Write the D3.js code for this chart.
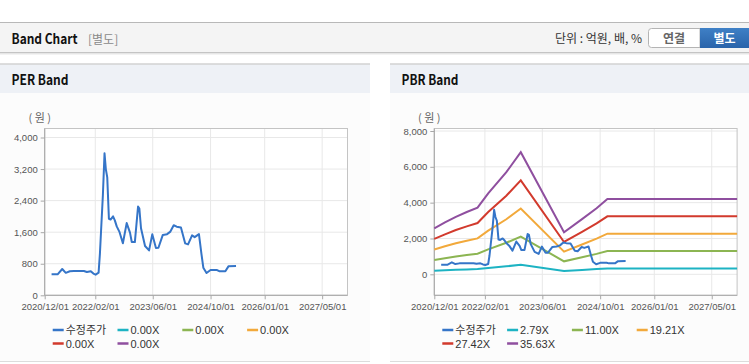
<!DOCTYPE html>
<html>
<head>
<meta charset="utf-8">
<script src="https://cdn.jsdelivr.net/npm/d3@7"></script>
<style>
  body { margin: 0; background: #fff; }
  svg { display: block; font-family: "Noto Sans CJK KR", "Liberation Sans", sans-serif; }
  .num { font-family: "Liberation Sans", Arial, sans-serif; }
</style>
</head>
<body>
<div id="chart"></div>
<script>
// x axis ticks (dates) shared by both charts
const tickDates = ['2020/12/01', '2022/02/01', '2023/06/01', '2024/10/01', '2026/01/01', '2027/05/01'];
const perTicks = [0, 800, 1600, 2400, 3200, 4000];
const pbrTicks = [0, 2000, 4000, 6000, 8000];

// 수정주가 (adjusted price)
const priceDates = ['2021-01-28', '2021-03-20', '2021-04-28', '2021-05-28', '2021-07-01', '2021-08-04',
  '2021-10-28', '2021-11-22', '2021-12-25', '2022-01-16', '2022-02-04', '2022-03-01', '2022-03-12',
  '2022-03-22', '2022-04-06', '2022-04-20', '2022-05-01', '2022-05-13', '2022-05-27', '2022-06-10',
  '2022-07-01', '2022-07-16', '2022-08-01', '2022-08-25', '2022-09-22', '2022-10-24', '2022-11-21',
  '2022-12-06', '2023-01-01', '2023-01-28', '2023-02-08', '2023-02-22', '2023-03-28', '2023-05-01',
  '2023-05-28', '2023-06-28', '2023-07-19', '2023-08-25', '2023-09-30', '2023-10-28', '2023-11-25',
  '2023-12-20', '2024-01-25', '2024-03-01', '2024-03-25', '2024-04-28', '2024-05-20', '2024-06-25',
  '2024-07-16', '2024-08-01', '2024-08-28', '2024-10-01', '2024-11-25', '2024-12-13', '2025-02-03',
  '2025-03-01', '2025-05-04'];
const priceValues = [531, 531, 666, 570, 610, 617,
  617, 590, 612, 550, 523, 575, 1050,
  1650, 2530, 3600, 3200, 2990, 1940, 1920,
  2000, 1900, 1746, 1600, 1320, 1830, 1590,
  1350, 1350, 2250, 2200, 1700, 1250, 1138,
  1545, 1200, 1205, 1530, 1550, 1615, 1775,
  1740, 1720, 1315, 1290, 1520, 1475, 1550,
  1050, 700, 565, 640, 640, 610, 610,
  734, 742];

// PBR bands
const bandDates = ['2020-12-01', '2021-03-01', '2021-06-01', '2021-09-01', '2021-12-01', '2022-03-01',
  '2022-08-01', '2022-12-01', '2023-12-01', '2024-05-01', '2024-09-01', '2024-12-01', '2027-12-01'];
const pbrBand1 = [201, 227, 251, 272, 291, 354, 446, 534, 184, 241, 289, 329, 329];
const pbrBand2 = [793, 895, 991, 1074, 1148, 1395, 1760, 2104, 724, 951, 1139, 1298, 1298];
const pbrBand3 = [1386, 1564, 1731, 1876, 2006, 2437, 3073, 3675, 1264, 1661, 1990, 2267, 2267];
const pbrBand4 = [1978, 2232, 2470, 2678, 2863, 3479, 4387, 5245, 1805, 2370, 2840, 3236, 3236];
const pbrBand5 = [2570, 2900, 3210, 3480, 3720, 4520, 5700, 6815, 2345, 3080, 3690, 4205, 4205];

const perLabels = ['수정주가', '0.00X', '0.00X', '0.00X', '0.00X', '0.00X'];
const pbrLabels = ['수정주가', '2.79X', '11.00X', '19.21X', '27.42X', '35.63X'];
const colors = ['#3575c8', '#1db3c3', '#8cb552', '#f2a93b', '#d23a2d', '#8f4f9f'];

const width = 749;
const height = 364;
const parse = d3.timeParse('%Y-%m-%d');
const parseTick = d3.timeParse('%Y/%m/%d');

const svg = d3.select('#chart').append('svg')
  .attr('width', width)
  .attr('height', height);

// top header bar
svg.append('rect').attr('x', 0).attr('y', 22).attr('width', width).attr('height', 31).attr('fill', '#f4f4f4');
svg.append('line').attr('x1', 0).attr('x2', width).attr('y1', 22.5).attr('y2', 22.5).attr('stroke', '#b8b8b8');
svg.append('line').attr('x1', 0).attr('x2', width).attr('y1', 52.5).attr('y2', 52.5).attr('stroke', '#c4c4c4');
svg.append('line').attr('x1', 0).attr('x2', width).attr('y1', 53.5).attr('y2', 53.5).attr('stroke', '#e6e6e6');
svg.append('line').attr('x1', 0).attr('x2', width).attr('y1', 54.5).attr('y2', 54.5).attr('stroke', '#f3f3f3');

svg.append('text').text('Band Chart')
  .attr('x', 11.5).attr('y', 43.5)
  .attr('textLength', 66).attr('lengthAdjust', 'spacingAndGlyphs')
  .attr('font-size', 14).attr('font-weight', 'bold').attr('fill', '#111');
svg.append('text').text('[별도]')
  .attr('x', 88).attr('y', 43.5)
  .attr('font-size', 12).attr('fill', '#8a8a8a');
svg.append('text').text('단위 : 억원, 배, %')
  .attr('x', 642).attr('y', 43)
  .attr('text-anchor', 'end')
  .attr('font-size', 12).attr('fill', '#333');

// buttons
svg.append('path')
  .attr('d', 'M700,28.5 L651.5,28.5 Q648.5,28.5 648.5,31.5 L648.5,44.5 Q648.5,47.5 651.5,47.5 L700,47.5 Z')
  .attr('fill', '#fff').attr('stroke', '#b4b4b4');
const grad = svg.append('defs').append('linearGradient')
  .attr('id', 'btn').attr('x1', 0).attr('x2', 0).attr('y1', 0).attr('y2', 1);
grad.append('stop').attr('offset', '0%').attr('stop-color', '#3f80c6');
grad.append('stop').attr('offset', '100%').attr('stop-color', '#2a64aa');
svg.append('rect').attr('x', 700).attr('y', 28).attr('width', 49).attr('height', 20).attr('fill', 'url(#btn)');
svg.append('text').text('연결')
  .attr('x', 674).attr('y', 42.5).attr('text-anchor', 'middle')
  .attr('font-size', 12).attr('font-weight', 'bold').attr('fill', '#666');
svg.append('text').text('별도')
  .attr('x', 724.5).attr('y', 42.5).attr('text-anchor', 'middle')
  .attr('font-size', 12).attr('font-weight', 'bold').attr('fill', '#fff');

function drawPanel(px, pw, title, cfg) {
  const g = svg.append('g');

  // panel frame
  g.append('rect').attr('x', px).attr('y', 93).attr('width', pw).attr('height', 269).attr('fill', '#fcfcfc');
  g.append('rect').attr('x', px).attr('y', 64).attr('width', pw).attr('height', 29).attr('fill', '#eef1f6');
  g.append('line').attr('x1', px).attr('x2', px + pw).attr('y1', 64).attr('y2', 64)
    .attr('stroke', '#d2d2d2').attr('stroke-width', 1.5);
  g.append('line').attr('x1', px).attr('x2', px + pw).attr('y1', 361.5).attr('y2', 361.5)
    .attr('stroke', '#dcdcdc');
  g.append('text').text(title)
    .attr('x', px + 11.5).attr('y', 85)
    .attr('textLength', 57).attr('lengthAdjust', 'spacingAndGlyphs')
    .attr('font-size', 14).attr('font-weight', 'bold').attr('fill', '#111');

  const left = px + cfg.axisX;
  const right = left + 302.8;
  const top = 128.5;
  const bottom = 295.3;

  const x = d3.scaleTime()
    .domain([parse('2020-12-01'), parse('2027-12-01')])
    .range([left, right]);
  const y = d3.scaleLinear()
    .domain([0, cfg.yMax])
    .range([cfg.y0, cfg.yTop]);

  // plot background + grid
  g.append('rect').attr('x', left).attr('y', top).attr('width', right - left).attr('height', bottom - top)
    .attr('fill', '#fff');
  g.append('g').selectAll('line').data(cfg.yTicks).join('line')
    .attr('x1', left).attr('x2', right)
    .attr('y1', d => y(d)).attr('y2', d => y(d))
    .attr('stroke', '#e8e8e8');
  g.append('g').selectAll('line').data(tickDates).join('line')
    .attr('x1', d => x(parseTick(d))).attr('x2', d => x(parseTick(d)))
    .attr('y1', top).attr('y2', bottom)
    .attr('stroke', '#e8e8e8');
  g.append('rect').attr('x', left).attr('y', top).attr('width', right - left).attr('height', bottom - top)
    .attr('fill', 'none').attr('stroke', '#c4c4c4');

  // y axis
  const yAxis = g.append('g')
    .attr('class', 'num')
    .attr('transform', `translate(${left},0)`)
    .call(d3.axisLeft(y).tickValues(cfg.yTicks).tickSize(4).tickPadding(3).tickFormat(d3.format(',')));
  yAxis.select('.domain').attr('stroke', '#a8a8a8').attr('d', `M0,${top}V${bottom}`);
  yAxis.selectAll('.tick line').attr('stroke', '#a8a8a8');
  yAxis.selectAll('.tick text').attr('fill', '#555').attr('font-size', 9.5)
    .attr('font-family', '"Liberation Sans", Arial, sans-serif');

  // x axis
  const xAxis = g.append('g')
    .attr('transform', `translate(0,${bottom})`)
    .call(d3.axisBottom(x).tickValues(tickDates.map(parseTick)).tickSize(4).tickPadding(4)
      .tickFormat(d3.timeFormat('%Y/%m/%d')));
  xAxis.select('.domain').attr('stroke', '#a8a8a8').attr('d', `M${left},0H${right}`);
  xAxis.selectAll('.tick line').attr('stroke', '#a8a8a8');
  xAxis.selectAll('.tick text').attr('fill', '#555').attr('font-size', 9.5)
    .attr('font-family', '"Liberation Sans", Arial, sans-serif');

  g.append('text').text('( 원 )')
    .attr('x', left - 5).attr('y', 122).attr('text-anchor', 'middle')
    .attr('font-size', 11).attr('fill', '#666');

  const line = d3.line()
    .x(d => x(d[0]))
    .y(d => y(d[1]));

  cfg.bands.forEach((vals, i) => {
    if (!vals) return;
    g.append('path')
      .datum(bandDates.map((d, j) => [parse(d), vals[j]]))
      .attr('d', line)
      .attr('fill', 'none')
      .attr('stroke', colors[i + 1])
      .attr('stroke-width', 2);
  });

  g.append('path')
    .datum(priceDates.map((d, j) => [parse(d), priceValues[j]]))
    .attr('d', line)
    .attr('fill', 'none')
    .attr('stroke', colors[0])
    .attr('stroke-width', 2)
    .attr('stroke-linejoin', 'round');

  // legend
  const legend = g.append('g').selectAll('g').data(cfg.labels).join('g')
    .attr('transform', (d, i) => `translate(${left + 8 + (i % 4) * 64.8},${330 + Math.floor(i / 4) * 13.5})`);
  legend.append('line')
    .attr('x1', 0).attr('x2', 11).attr('y1', 0).attr('y2', 0)
    .attr('stroke', (d, i) => colors[i]).attr('stroke-width', 2.5);
  legend.append('text')
    .text(d => d)
    .attr('x', 13).attr('y', 4)
    .attr('font-size', 11).attr('fill', '#333')
    .attr('font-family', (d, i) => i === 0 ? '"Noto Sans CJK KR", sans-serif' : '"Liberation Sans", Arial, sans-serif');
}

drawPanel(0, 370, 'PER Band', {
  axisX: 44.7,
  yMax: 4000, y0: 295.3, yTop: 137.5,
  yTicks: perTicks,
  labels: perLabels,
  bands: [null, null, null, null, null]
});

drawPanel(390, 359, 'PBR Band', {
  axisX: 44.3,
  yMax: 8000, y0: 274.3, yTop: 131,
  yTicks: pbrTicks,
  labels: pbrLabels,
  bands: [pbrBand1, pbrBand2, pbrBand3, pbrBand4, pbrBand5]
});
</script>
</body>
</html>
